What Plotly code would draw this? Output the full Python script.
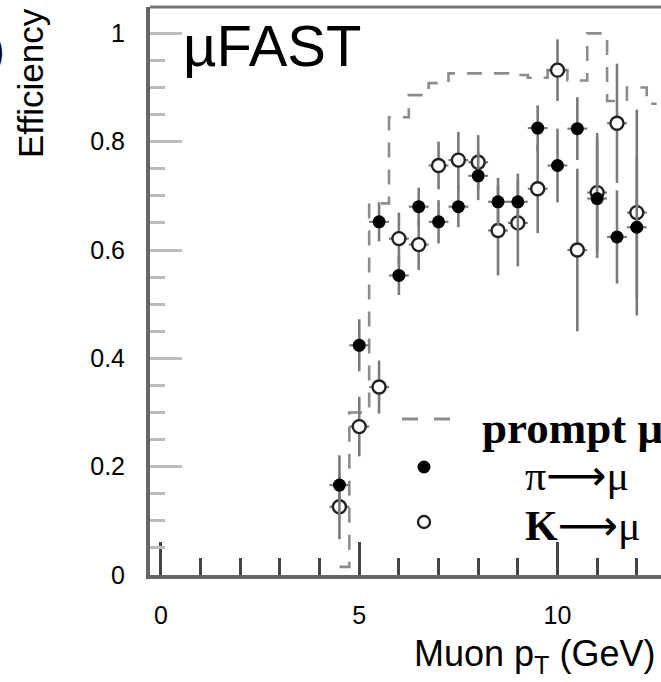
import plotly.graph_objects as go

# ---------------- data ----------------
pt_bins = [4.5, 5.0, 5.5, 6.0, 6.5, 7.0, 7.5, 8.0, 8.5, 9.0, 9.5, 10.0, 10.5, 11.0, 11.5, 12.0]
pion_eff = [0.166, 0.424, 0.652, 0.553, 0.680, 0.652, 0.680, 0.737, 0.689, 0.689,
            0.825, 0.756, 0.824, 0.695, 0.624, 0.642]
pion_err = [0.055, 0.048, 0.036, 0.036, 0.035, 0.040, 0.038, 0.045, 0.044, 0.052,
            0.042, 0.068, 0.058, 0.110, 0.086, 0.130]
kaon_eff = [0.126, 0.274, 0.347, 0.621, 0.610, 0.756, 0.766, 0.762, 0.636, 0.650,
            0.713, 0.932, 0.600, 0.706, 0.834, 0.669]
kaon_err = [0.060, 0.055, 0.049, 0.048, 0.047, 0.044, 0.052, 0.050, 0.083, 0.080,
            0.082, 0.057, 0.150, 0.110, 0.110, 0.190]
bin_half_width = 0.25

prompt_pt = [4.5, 5.0, 5.5, 6.0, 6.5, 7.0, 7.5, 8.0, 8.5, 9.0, 9.5, 10.0, 10.5, 11.0, 11.5, 12.0, 12.5]
prompt_eff = [0.015, 0.300, 0.686, 0.845, 0.886, 0.908, 0.926, 0.926, 0.926, 0.923, 0.918,
              0.932, 0.913, 1.000, 0.875, 0.900, 0.870]

y_tickvals = [0, 0.2, 0.4, 0.6, 0.8, 1.0]
y_ticktext = ["0", "0.2", "0.4", "0.6", "0.8", "1"]
x_tickvals = [0, 5, 10]
x_ticktext = ["0", "5", "10"]

# ---------------- layout geometry ----------------
W, H = 661, 682
ML, MR, MT, MB = 150, 0, 7, 107
PW, PH = W - ML - MR, H - MT - MB


def px_x(px):
    return (px - ML) / PW


def px_y(py):
    return (H - MB - py) / PH


ERR_COL = "#7a7a7a"
CURVE_COL = "#8c8c8c"

fig = go.Figure()

fig.add_trace(go.Scatter(
    x=prompt_pt, y=prompt_eff, mode="lines", line_shape="hvh",
    line=dict(color=CURVE_COL, width=2.6, dash="15px,12px"),
    hoverinfo="skip", name="prompt μ"))

fig.add_trace(go.Scatter(
    x=pt_bins, y=kaon_eff, mode="markers", name="K→μ",
    marker=dict(symbol="circle", size=13, color="white",
                line=dict(color="#222", width=2.4)),
    error_y=dict(type="data", array=kaon_err, color=ERR_COL, thickness=2.6, width=0),
    error_x=dict(type="constant", value=bin_half_width, color=ERR_COL, thickness=2.2, width=0)))

fig.add_trace(go.Scatter(
    x=pt_bins, y=pion_eff, mode="markers", name="π→μ",
    marker=dict(symbol="circle", size=13, color="black", line=dict(width=0)),
    error_y=dict(type="data", array=pion_err, color=ERR_COL, thickness=2.6, width=0),
    error_x=dict(type="constant", value=bin_half_width, color=ERR_COL, thickness=2.2, width=0)))

tickfont = dict(family="Liberation Sans", size=25, color="black")

fig.update_xaxes(
    range=[-0.277, 12.61], showgrid=False, zeroline=False,
    showline=True, linecolor="#666", linewidth=4,
    ticks="inside", tickvals=x_tickvals, ticktext=x_ticktext,
    ticklen=33, tickwidth=3, tickcolor="#444",
    minor=dict(dtick=1, tick0=0, ticks="inside", ticklen=17, tickwidth=2.5, tickcolor="#444"),
    tickfont=tickfont, ticklabelstandoff=15)

fig.update_yaxes(
    range=[0, 1.0486], showgrid=False, zeroline=False,
    showline=True, linecolor="#666", linewidth=4,
    ticks="inside", tickvals=y_tickvals, ticktext=y_ticktext,
    ticklen=32, tickwidth=3, tickcolor="#bbbbbb",
    minor=dict(dtick=0.05, tick0=0, ticks="inside", ticklen=15, tickwidth=3, tickcolor="#bbbbbb"),
    tickfont=tickfont, ticklabelstandoff=16)

shapes = [
    # top frame line
    dict(type="line", xref="paper", yref="paper", x0=0, x1=1, y0=1, y1=1,
         line=dict(color="#777", width=3)),
    # legend: dashed line sample
    dict(type="line", xref="paper", yref="paper", x0=px_x(402), x1=px_x(450),
         y0=px_y(419), y1=px_y(419), line=dict(color=CURVE_COL, width=3, dash="16px,16px")),
    # legend: filled dot
    dict(type="circle", xref="paper", yref="paper", xsizemode="pixel", ysizemode="pixel",
         xanchor=px_x(424), yanchor=px_y(467), x0=-6.5, x1=6.5, y0=-6.5, y1=6.5,
         fillcolor="black", line=dict(width=0)),
    # legend: open dot
    dict(type="circle", xref="paper", yref="paper", xsizemode="pixel", ysizemode="pixel",
         xanchor=px_x(424), yanchor=px_y(522), x0=-6, x1=6, y0=-6, y1=6,
         fillcolor="white", line=dict(color="#222", width=2.4)),
]

serif = "Liberation Serif"
arrow = "<span style='font-family:DejaVu Sans'>⟶</span>"
annotations = [
    dict(text="µFAST", x=px_x(181), y=px_y(45), xref="paper", yref="paper",
         xanchor="left", yanchor="middle", showarrow=False,
         font=dict(family="Liberation Sans", size=58, color="black")),
    dict(text="Efficiency", x=px_x(30), y=px_y(83), xref="paper", yref="paper",
         xanchor="center", yanchor="middle", textangle=-90, showarrow=False,
         font=dict(family="Liberation Sans", size=35, color="black")),
    dict(text="(a)", x=px_x(7), y=px_y(50), xref="paper", yref="paper",
         xanchor="right", yanchor="middle", showarrow=False,
         font=dict(family="Liberation Sans", size=44, color="black")),
    dict(text="Muon p<sub>T</sub> (GeV)", x=px_x(657), y=px_y(656), xref="paper", yref="paper",
         xanchor="right", yanchor="middle", showarrow=False,
         font=dict(family="Liberation Sans", size=36, color="black")),
    dict(text="<b>prompt μ</b>", x=px_x(480), y=px_y(428), xref="paper", yref="paper",
         xanchor="left", yanchor="middle", showarrow=False,
         font=dict(family=serif, size=45, color="black")),
    dict(text="π" + arrow + "μ", x=px_x(523), y=px_y(475), xref="paper", yref="paper",
         xanchor="left", yanchor="middle", showarrow=False,
         font=dict(family=serif, size=42, color="black")),
    dict(text="<b>K</b>" + arrow + "μ", x=px_x(523), y=px_y(525), xref="paper", yref="paper",
         xanchor="left", yanchor="middle", showarrow=False,
         font=dict(family=serif, size=42, color="black")),
]

fig.update_layout(
    width=W, height=H, margin=dict(l=ML, r=MR, t=MT, b=MB),
    plot_bgcolor="white", paper_bgcolor="white", showlegend=False,
    shapes=shapes, annotations=annotations)

fig.write_html("out.html")
